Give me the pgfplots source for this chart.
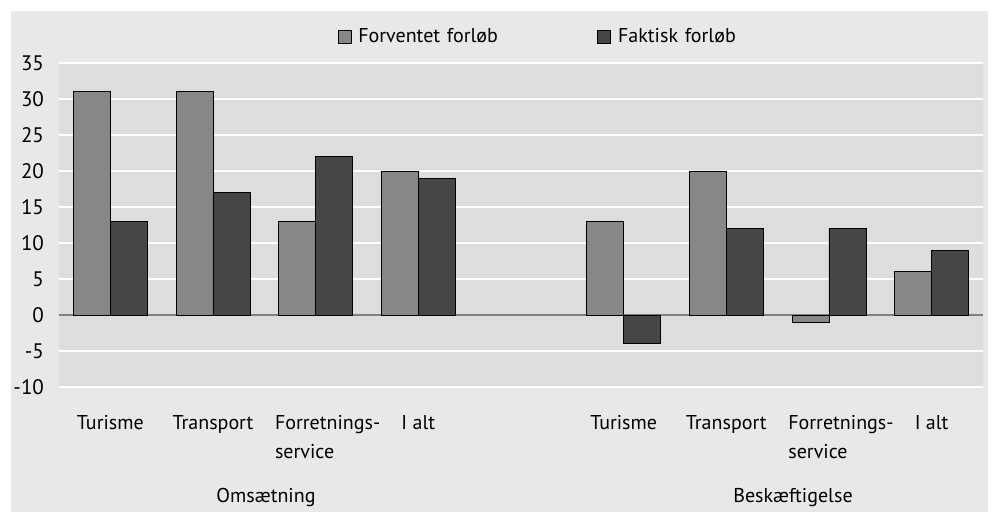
\documentclass[border=0pt]{standalone}
\usepackage{pgfplots}
\pgfplotsset{compat=1.18}
\usepackage{fontspec}
\setmainfont{PT Sans}
\definecolor{outerbg}{HTML}{E8E8E8}
\definecolor{plotbg}{HTML}{DDDDDD}
\definecolor{barlight}{HTML}{878787}
\definecolor{bardark}{HTML}{464646}
\definecolor{zeroline}{HTML}{808080}
\begin{document}
\begin{tikzpicture}[x=1pt,y=1pt]
\fill[white] (0,0) rectangle (498.5,256);
\fill[outerbg] (5.5,0) rectangle (494,250.5);
\begin{axis}[
  at={(29.5pt,62.5pt)}, anchor=south west,
  scale only axis, width=462pt, height=162pt,
  ybar=0pt, bar width=0.36,
  legend image code/.code={\draw[#1,draw=black,line width=0.4pt] (0pt,-3.25pt) rectangle (6.5pt,3.25pt);},
  xmin=-0.5, xmax=8.5, ymin=-10, ymax=35,
  ytick={-10,-5,...,35},
  xtick={0,1,2,3,5,6,7,8},
  xticklabels={Turisme,Transport,{\hspace*{12pt}Forretnings-\\\hspace*{12pt}service},I alt,Turisme,Transport,{\hspace*{12pt}Forretnings-\\\hspace*{12pt}service},I alt},
  xticklabel style={align=left, anchor=north, yshift=-10.5pt, font=\fontsize{10}{14.5}\selectfont},
  yticklabel style={font=\fontsize{10.5}{12}\selectfont, xshift=-4pt},
  /pgf/number format/assume math mode=true,
  major tick length=0pt,
  axis line style={draw=none},
  axis background/.style={fill=plotbg},
  ymajorgrids, grid style={white, line width=1.1pt},
  legend columns=2,
  legend style={at={(0.301,1.08)}, anchor=west, draw=none, fill=none, inner sep=0pt,
    font=\fontsize{10}{12}\selectfont,
    nodes={text width=123pt, align=left, inner sep=0pt},
    /tikz/every even column/.append style={column sep=0pt}},
  clip=false,
]
\draw[zeroline, line width=0.6pt] (axis cs:-0.5,0) -- (axis cs:8.5,0);
\addplot[fill=barlight, draw=black, line width=0.4pt] coordinates {
  (0,31) (1,31) (2,13) (3,20) (5,13) (6,20) (7,-1) (8,6)};
\addplot[fill=bardark, draw=black, line width=0.4pt] coordinates {
  (0,13) (1,17) (2,22) (3,19) (5,-4) (6,12) (7,12) (8,9)};
\legend{\hspace*{3.5pt}Forventet forløb, \hspace*{3.5pt}Faktisk forløb}
\end{axis}
\node[font=\fontsize{10}{12}\selectfont] at (133,7) {Omsætning};
\node[font=\fontsize{10}{12}\selectfont] at (396.5,7) {Beskæftigelse};
\end{tikzpicture}
\end{document}
